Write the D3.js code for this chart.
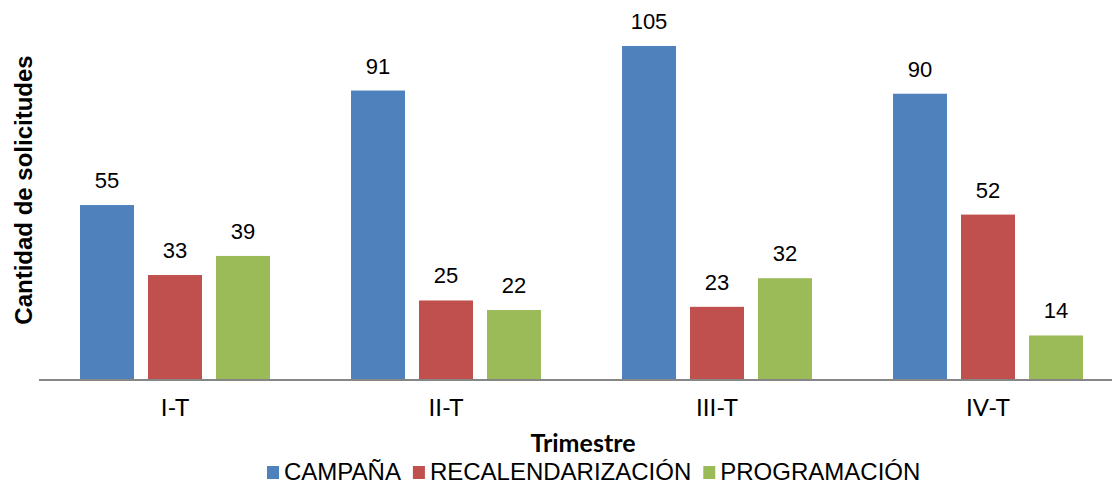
<!DOCTYPE html>
<html><head><meta charset="utf-8">
<script src="https://cdn.jsdelivr.net/npm/d3@7"></script>
<style>body{margin:0;background:#fff}svg{display:block}</style>
</head><body>
<svg id="c" width="1112" height="485"></svg>
<script>
const categories = ["I-T","II-T","III-T","IV-T"];
const seriesNames = ["CAMPAÑA","RECALENDARIZACIÓN","PROGRAMACIÓN"];
const campana = [55, 91, 105, 90];
const recalendarizacion = [33, 25, 23, 52];
const programacion = [39, 22, 32, 14];
const colors = ["#4F81BD","#C0504D","#9BBB59"];
const series = [campana, recalendarizacion, programacion];

const svg = d3.select("#c");
const font = "Liberation Sans, Arial, sans-serif";
const font2 = "Lato, Liberation Sans, sans-serif";

const x0 = d3.scaleBand().domain(categories).range([39.5, 1123.5]).paddingInner(0.299).paddingOuter(0.1495);
const x1 = d3.scaleBand().domain(seriesNames).range([0, x0.bandwidth()]).paddingInner(0.206);
const y = d3.scaleLinear().domain([0, 105]).range([380, 46]);

const g = svg.append("g");
categories.forEach((c, ci) => {
  series.forEach((s, si) => {
    const v = s[ci];
    g.append("rect")
      .attr("x", x0(c) + x1(seriesNames[si]))
      .attr("y", y(v))
      .attr("width", x1.bandwidth())
      .attr("height", y(0) - y(v))
      .attr("fill", colors[si]);
    g.append("text")
      .attr("x", x0(c) + x1(seriesNames[si]) + x1.bandwidth() / 2)
      .attr("y", y(v) - 17)
      .attr("text-anchor", "middle")
      .attr("font-family", font)
      .attr("font-size", 22)
      .attr("fill", "#000")
      .text(v);
  });
});

// x axis
const xAxis = svg.append("g").attr("transform", `translate(0,${y(0)})`)
  .call(d3.axisBottom(x0).tickSize(0).tickPadding(19));
xAxis.select(".domain").attr("stroke", "#868686").attr("stroke-width", 2).attr("d", "M39,0H1112");
xAxis.selectAll("text").attr("font-family", font2).attr("font-size", 24).attr("fill", "#000");

// axis titles
svg.append("text").attr("x", 583).attr("y", 452).attr("text-anchor", "middle")
  .attr("font-family", font2)
  .attr("font-weight", "bold").attr("font-size", 25).attr("fill", "#000").text("Trimestre");
svg.append("text").attr("transform", "translate(32,190) rotate(-90)").attr("text-anchor", "middle")
  .attr("font-family", font).attr("font-weight", "bold").attr("font-size", 24).attr("fill", "#000")
  .text("Cantidad de solicitudes");

// legend
const leg = svg.append("g");
let lx = 267;
seriesNames.forEach((n, i) => {
  leg.append("rect").attr("x", lx).attr("y", 466).attr("width", 12).attr("height", 13).attr("fill", colors[i]);
  const t = leg.append("text").attr("x", lx + 17).attr("y", 480)
    .attr("font-family", font).attr("font-size", 24).attr("fill", "#000").text(n);
  lx += 17 + t.node().getComputedTextLength() + 12;
});
</script>
</body></html>
